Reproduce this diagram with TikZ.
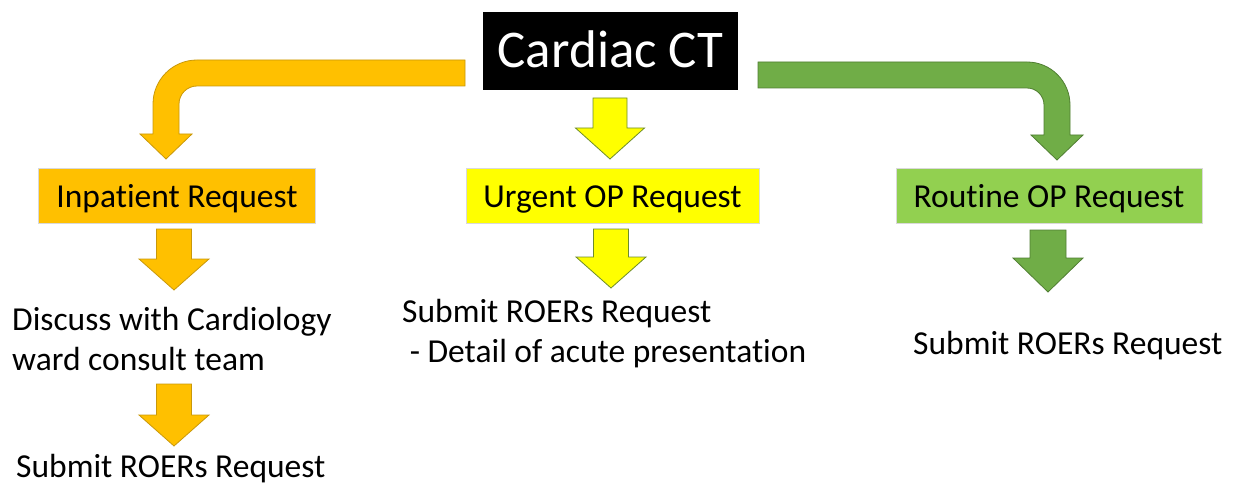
\documentclass[tikz,border=0pt]{standalone}
\usepackage{fontspec}
\setmainfont{Carlito}[Ligatures=NoCommon]
\definecolor{corange}{HTML}{FFC000}
\definecolor{corangeD}{HTML}{C9980A}
\definecolor{cyellow}{HTML}{FFFF00}
\definecolor{cyellowD}{HTML}{6E8C2A}
\definecolor{cgreen}{HTML}{70AD47}
\definecolor{cgreenD}{HTML}{507E32}
\definecolor{cgreenL}{HTML}{92D050}
\newcommand{\bdown}[7]{%
  \path[#1] ({#2-#6},#3) -- ({#2+#6},#3) -- ({#2+#6},#4) -- ({#2+#7},#4) -- (#2,#5) -- ({#2-#7},#4) -- ({#2-#6},#4) -- cycle;}
\begin{document}
\begin{tikzpicture}[x=1pt,y=-1pt,
  boxst/.style={draw=black!15, line width=0.8pt, minimum height=55pt, inner sep=0pt,
    text height=30pt, text depth=7pt, font=\fontsize{33.5}{40}\selectfont},
  lbl/.style={inner sep=0pt, align=left, font=\fontsize{33.5}{40}\selectfont},
  arrO/.style={fill=corange, draw=corangeD, line width=0.8pt},
  arrY/.style={fill=cyellow, draw=cyellowD, line width=0.8pt},
  arrG/.style={fill=cgreen, draw=cgreenD, line width=0.8pt}]
\useasboundingbox (0,0) rectangle (1239,484);
% bent arrows
\path[arrO] (465,60) -- (197,60) .. controls (172.7,60) and (153,79.7) .. (153,104)
  -- (153,134) -- (140,134) -- (166,159) -- (192,134) -- (179,134) -- (179,104)
  .. controls (179,94.06) and (187.06,86) .. (197,86) -- (465,86) -- cycle;
\path[arrG] (758,62) -- (1027,62) .. controls (1050.75,62) and (1070,81.25) .. (1070,105)
  -- (1070,135) -- (1083,135) -- (1057,160) -- (1031,135) -- (1044,135) -- (1044,105)
  .. controls (1044,95.61) and (1036.39,88) .. (1027,88) -- (758,88) -- cycle;
% straight block arrows
\bdown{arrY}{610}{98}{128}{159}{17}{34.5}
\bdown{arrY}{611}{229}{257}{288}{17.5}{35}
\bdown{arrO}{174}{229}{259}{290}{17.5}{35}
\bdown{arrO}{174}{384}{415}{446}{17.5}{35}
\bdown{arrG}{1048}{230}{258}{292}{18}{35}
% nodes
\node[fill=black, text=white, minimum width=255pt, minimum height=78pt, inner sep=0pt,
  text height=44pt, text depth=10pt,
  font=\fontsize{53}{60}\selectfont] (ct) at (610.5,51) {Cardiac CT};
\node[boxst, fill=corange, minimum width=277pt] (inp) at (177,196) {Inpatient Request};
\node[boxst, fill=cyellow, minimum width=293pt] (urg) at (612.5,196) {Urgent OP Request};
\node[boxst, fill=cgreenL, minimum width=306pt] (rout) at (1049,196) {Routine OP Request};
\node[lbl, anchor=base west] (disc) at (12,370) {Discuss with Cardiology\\ward consult team};
\node[lbl, anchor=base west] (sub1) at (16,477) {Submit ROERs Request};
\node[lbl, anchor=base west] (sub2) at (402,362) {Submit ROERs Request\\\ - Detail of acute presentation};
\node[lbl, anchor=base west] (sub3) at (913,354) {Submit ROERs Request};
\end{tikzpicture}
\end{document}
